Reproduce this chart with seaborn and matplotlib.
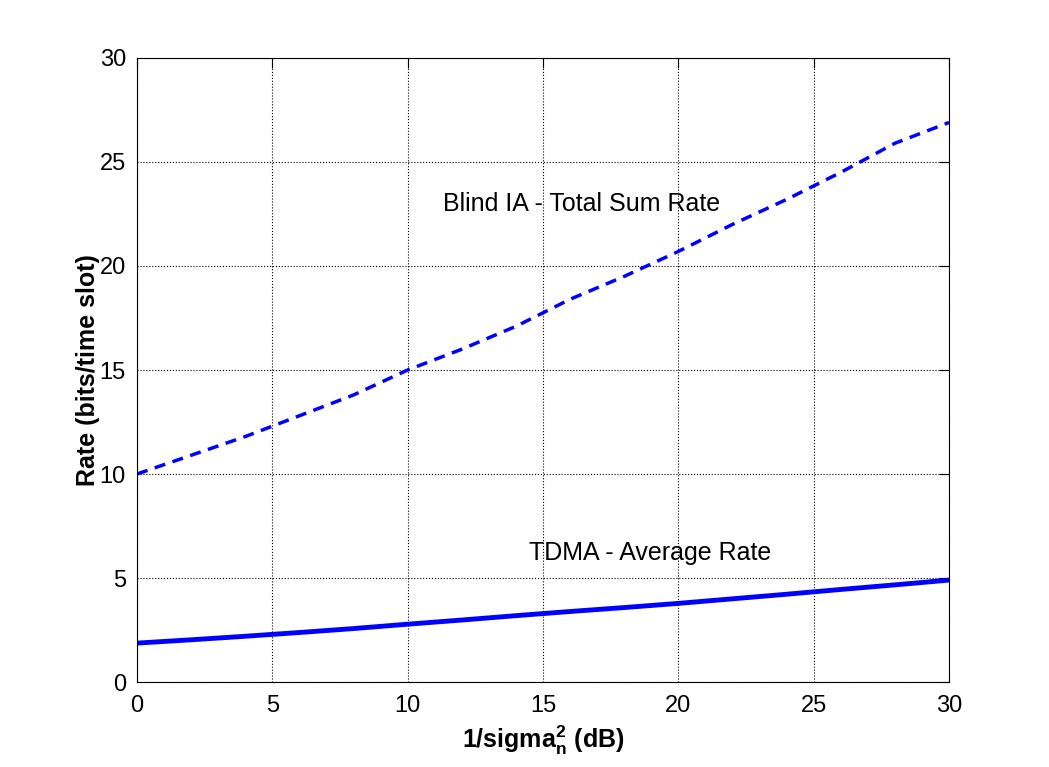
import seaborn as sns
import matplotlib
matplotlib.use("Agg")
import matplotlib.pyplot as plt
import pandas as pd

snr_db = [0, 2, 4, 6, 8, 10, 12, 14, 16, 18, 20, 22, 24, 26, 28, 30]
blind_ia = [10.0, 10.9, 11.8, 12.8, 13.8, 15.0, 16.0, 17.1, 18.4, 19.5, 20.7, 22.0, 23.2, 24.5, 25.9, 26.9]
tdma = [1.87, 2.03, 2.2, 2.38, 2.57, 2.78, 2.98, 3.19, 3.39, 3.58, 3.78, 4.0, 4.22, 4.45, 4.67, 4.90]

sns.set_style("white")
plt.rcParams['font.family'] = ['Liberation Sans', 'DejaVu Sans']
plt.rcParams['text.color'] = 'black'
plt.rcParams['axes.labelcolor'] = 'black'

df = pd.DataFrame({'snr': snr_db, 'blind': blind_ia, 'tdma': tdma})

fig = plt.figure(figsize=(10.49, 7.67), dpi=100)
ax = fig.add_axes([0.1306, 0.1108, 0.7741, 0.8136])

sns.lineplot(data=df, x='snr', y='blind', ax=ax, color='#0000ff', linewidth=2.5,
             linestyle=(0, (3.2, 2.2)))
sns.lineplot(data=df, x='snr', y='tdma', ax=ax, color='#0000ff', linewidth=3.5)

ax.set_xlim(0, 30)
ax.set_ylim(0, 30)
ax.set_xticks(range(0, 31, 5))
ax.set_yticks(range(0, 31, 5))
ax.grid(True, color='black', linestyle=':', linewidth=0.8)
ax.tick_params(direction='in', length=7, width=0.8, top=True, right=True,
               labelsize=17, colors='black')
ax.tick_params(axis='x', pad=9)
ax.tick_params(axis='y', pad=8)
for s in ax.spines.values():
    s.set_color('black')
    s.set_linewidth(0.8)

ax.set_xlabel(r'1/sigma$_\mathregular{n}^\mathregular{2}$ (dB)', fontsize=18, fontweight='bold', labelpad=5)
ax.set_ylabel('Rate (bits/time slot)', fontsize=18, fontweight='bold', labelpad=0)

ax.text(11.3, 23.0, 'Blind IA - Total Sum Rate', fontsize=18, va='center')
ax.text(14.5, 6.2, 'TDMA - Average Rate', fontsize=18, va='center')

fig.savefig('out.png', dpi=100)
